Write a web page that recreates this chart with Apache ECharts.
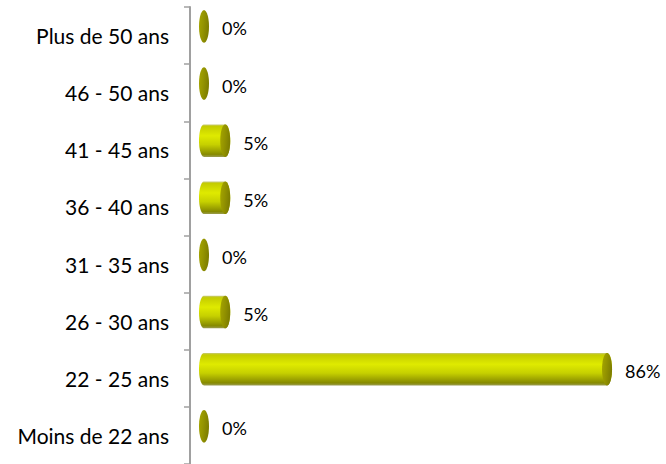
<!DOCTYPE html>
<html>
<head>
<meta charset="utf-8">
<script src="https://cdn.jsdelivr.net/npm/echarts@6/dist/echarts.min.js"></script>
<style>
html,body{margin:0;padding:0;background:#fff;}
#chart{width:666px;height:464px;}
</style>
</head>
<body>
<div id="chart"></div>
<script>
// Data (bottom to top)
const categories = ['Moins de 22 ans', '22 - 25 ans', '26 - 30 ans', '31 - 35 ans', '36 - 40 ans', '41 - 45 ans', '46 - 50 ans', 'Plus de 50 ans'];
const values = [0, 86.36, 4.55, 0, 4.55, 4.55, 0, 0];

const chart = echarts.init(document.getElementById('chart'), null, {renderer: 'svg'});

function ellipsePts(cx, cy, rx, ry, a0, a1, n) {
  const pts = [];
  for (let i = 0; i <= n; i++) {
    const a = a0 + (a1 - a0) * i / n;
    pts.push([cx + rx * Math.cos(a), cy + ry * Math.sin(a)]);
  }
  return pts;
}

function renderItem(params, api) {
  const cat = api.value(0);
  const val = api.value(1);
  const p0 = api.coord([0, cat]);
  const p1 = api.coord([val, cat]);
  const band = api.size([0, 1])[1];
  const ry = band * 0.285;
  const rx = 5;
  const cy = p0[1] - band * 0.16;
  const x0 = p0[0];
  const x1 = p1[0];
  const children = [];
  if (x1 - x0 > 0.5) {
    const left = ellipsePts(x0, cy, rx, ry, -Math.PI / 2, -Math.PI * 1.5, 30);
    const right = ellipsePts(x1, cy, rx, ry, Math.PI / 2, -Math.PI / 2, 30);
    children.push({
      type: 'polygon',
      shape: {points: left.concat(right)},
      style: {
        fill: {
          type: 'linear', x: 0, y: 0, x2: 0, y2: 1,
          colorStops: [
            {offset: 0, color: '#c6c87e'},
            {offset: 0.06, color: '#c4cc00'},
            {offset: 0.35, color: '#dfea00'},
            {offset: 0.62, color: '#c6d000'},
            {offset: 0.92, color: '#868a00'},
            {offset: 1, color: '#9a9c50'}
          ]
        }
      }
    });
  }
  children.push({
    type: 'polygon',
    shape: {points: ellipsePts(x1, cy, rx, ry, 0, Math.PI * 2, 40)},
    style: {
      fill: {
        type: 'linear', x: 0, y: 0, x2: 1, y2: 0.3,
        colorStops: [
          {offset: 0, color: '#a6a600'},
          {offset: 0.5, color: '#949400'},
          {offset: 1, color: '#7e7e00'}
        ]
      }
    }
  });
  children.push({
    type: 'text',
    style: {
      x: x1 + rx + 13,
      y: cy + 2,
      text: Math.round(val) + '%',
      fill: '#000',
      font: '18px Lato',
      verticalAlign: 'middle',
      align: 'left'
    }
  });
  return {type: 'group', children: children};
}

chart.setOption({
  animation: false,
  grid: {left: 190, right: 9.3, top: 7, bottom: 0, containLabel: false},
  xAxis: {
    type: 'value', min: -3, max: 97, show: false
  },
  yAxis: {
    type: 'category',
    data: categories,
    axisLine: {show: true, onZero: false, lineStyle: {color: '#a0a0a0', width: 2}},
    axisTick: {show: true, length: 6, lineStyle: {color: '#a0a0a0', width: 1.5}},
    axisLabel: {
      color: '#000', fontFamily: 'Lato', fontSize: 21, margin: 21,
      padding: [6, 0, 0, 0]
    },
    splitLine: {show: false}
  },
  series: [{
    type: 'custom',
    renderItem: renderItem,
    data: categories.map((c, i) => [i, values[i]]),
    encode: {y: 0, x: 1}
  }]
});
</script>
</body>
</html>
